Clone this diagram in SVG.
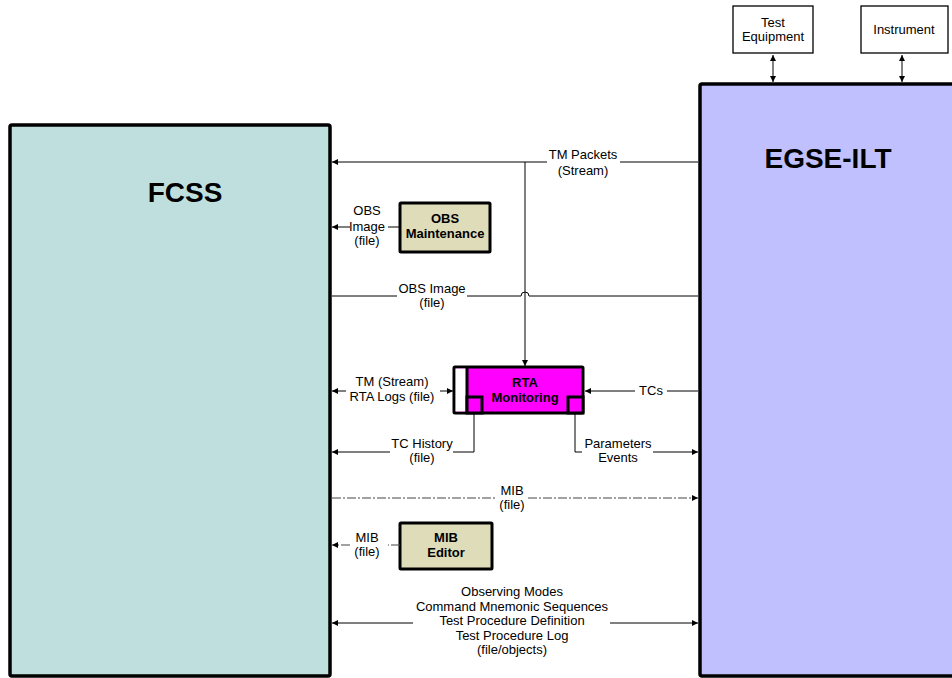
<svg xmlns="http://www.w3.org/2000/svg" width="952" height="678" viewBox="0 0 952 678">
<style>
  text { font-family: "Liberation Sans", Arial, sans-serif; font-size: 13px; fill: #000; text-anchor: middle; }
  .big { font-size: 28px; font-weight: bold; }
  .bold { font-weight: bold; }
  .sys { stroke: #000; stroke-width: 3.5; }
  .proc { fill: #DEDCB9; stroke: #000; stroke-width: 3; }
  .ext { fill: #fff; stroke: #000; stroke-width: 1.3; }
  .conn { fill: none; stroke: #000; stroke-width: 1; }
  .dash { stroke-dasharray: 9 2 2 2; stroke: #444; }
</style>
<defs>
  <marker id="arr" viewBox="0 0 10 10" refX="10" refY="5" markerWidth="8" markerHeight="6" markerUnits="userSpaceOnUse" orient="auto-start-reverse">
    <path d="M0,0 L10,5 L0,10 Z" fill="#000"/>
  </marker>
</defs>
<rect width="952" height="678" fill="#fff"/>

<g id="fcss">
  <rect class="sys" x="10" y="125" width="320" height="551" rx="2" fill="#BFDFDF"/>
  <text class="big" x="185" y="202">FCSS</text>
</g>
<g id="egse-ilt">
  <rect class="sys" x="700" y="84" width="270" height="592" rx="2" fill="#C0C0FF"/>
  <text class="big" x="828" y="168">EGSE-ILT</text>
</g>
<g id="test-equipment">
  <rect class="ext" x="733" y="6" width="80" height="47"/>
  <text x="773" y="27">Test</text>
  <text x="773" y="41">Equipment</text>
</g>
<g id="instrument">
  <rect class="ext" x="861" y="6" width="87" height="47"/>
  <text x="904" y="34">Instrument</text>
</g>
<g id="obs-maintenance">
  <rect class="proc" x="400" y="203" width="90" height="49" rx="1"/>
  <text class="bold" x="445" y="223">OBS</text>
  <text class="bold" x="445" y="238">Maintenance</text>
</g>
<g id="rta-monitoring">
  <rect x="454" y="367" width="129" height="46" fill="#FF00FF" stroke="#000" stroke-width="3" rx="1"/>
  <rect x="455.5" y="368.5" width="11.5" height="43" fill="#fff"/>
  <line x1="467" y1="367" x2="467" y2="413" stroke="#000" stroke-width="3"/>
  <rect x="467" y="397" width="15" height="16" fill="#FF00FF" stroke="#000" stroke-width="3"/>
  <rect x="568" y="397" width="15" height="16" fill="#FF00FF" stroke="#000" stroke-width="3"/>
  <text class="bold" x="525" y="387">RTA</text>
  <text class="bold" x="525" y="402">Monitoring</text>
</g>
<g id="mib-editor">
  <rect class="proc" x="400" y="523" width="92" height="46" rx="1"/>
  <text class="bold" x="446" y="542">MIB</text>
  <text class="bold" x="446" y="557">Editor</text>
</g>

<g id="connectors">
  <path class="conn" d="M773,55 L773,82" marker-start="url(#arr)" marker-end="url(#arr)"/>
  <path class="conn" d="M902,55 L902,82" marker-start="url(#arr)" marker-end="url(#arr)"/>
  <path class="conn" d="M698,162 L620,162 M547,162 L332,162" marker-end="url(#arr)"/>
  <path class="conn" d="M525,162 L525,366" marker-end="url(#arr)"/>
  <path class="conn" d="M400,227 L388,227 M350,227 L332,227" marker-end="url(#arr)"/>
  <path class="conn" d="M332,296 L397,296 M467,296 L521,296 A4,4 0 0 1 529,296 L698,296"/>
  <path class="conn" d="M346,391 L332,391" marker-end="url(#arr)"/>
  <path class="conn" d="M440,391 L453,391" marker-end="url(#arr)"/>
  <path class="conn" d="M698,391 L667,391 M635,391 L585,391" marker-end="url(#arr)"/>
  <path class="conn" d="M474,414 L474,452 L453,452 M390,452 L332,452" marker-end="url(#arr)"/>
  <path class="conn" d="M575,414 L575,452 L582,452 M653,452 L698,452" marker-end="url(#arr)"/>
  <path class="conn dash" d="M332,498 L495,498 M528,498 L698,498" marker-end="url(#arr)"/>
  <path class="conn dash" d="M400,545 L388,545 M350,545 L332,545" marker-end="url(#arr)"/>
  <path class="conn" d="M413,623 L332,623" marker-end="url(#arr)"/>
  <path class="conn" d="M610,623 L698,623" marker-end="url(#arr)"/>
</g>

<g id="labels">
  <text x="583" y="159">TM Packets</text>
  <text x="583" y="175">(Stream)</text>
  <text x="367" y="215">OBS</text>
  <text x="367" y="231">Image</text>
  <text x="367" y="245">(file)</text>
  <text x="432" y="293">OBS Image</text>
  <text x="432" y="307">(file)</text>
  <text x="392" y="386">TM (Stream)</text>
  <text x="392" y="401">RTA Logs (file)</text>
  <text x="651" y="395">TCs</text>
  <text x="422" y="448">TC History</text>
  <text x="422" y="462">(file)</text>
  <text x="618" y="448">Parameters</text>
  <text x="618" y="462">Events</text>
  <text x="512" y="495">MIB</text>
  <text x="512" y="509">(file)</text>
  <text x="367" y="542">MIB</text>
  <text x="367" y="556">(file)</text>
  <text x="512" y="596">Observing Modes</text>
  <text x="512" y="611">Command Mnemonic Sequences</text>
  <text x="512" y="625">Test Procedure Definition</text>
  <text x="512" y="640">Test Procedure Log</text>
  <text x="512" y="654">(file/objects)</text>
</g>
</svg>
